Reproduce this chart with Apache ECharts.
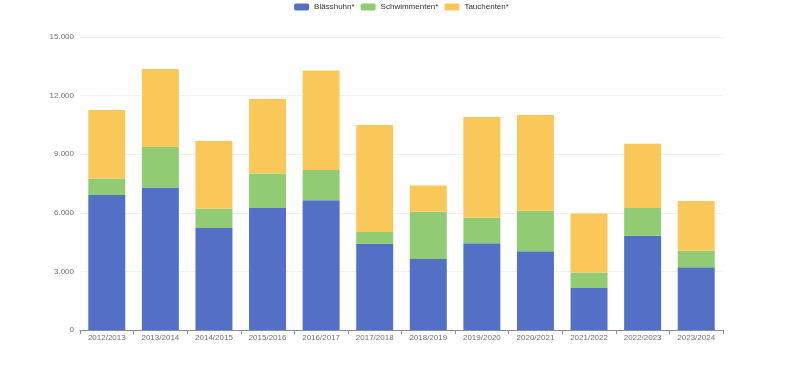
<!DOCTYPE html>
<html>
<head>
<meta charset="utf-8">
<script src="https://cdn.jsdelivr.net/npm/echarts@6/dist/echarts.min.js"></script>
<style>
  html, body { margin: 0; padding: 0; background: #fff; }
  #chart { width: 803px; height: 373px; }
</style>
</head>
<body>
<div id="chart"></div>
<script>
// winter seasons
const seasons = ['2012/2013', '2013/2014', '2014/2015', '2015/2016', '2016/2017', '2017/2018',
  '2018/2019', '2019/2020', '2020/2021', '2021/2022', '2022/2023', '2023/2024']
const blaesshuhn = [6910, 7290, 5220, 6250, 6640, 4420, 3640, 4440, 4030, 2150, 4830, 3210]
const schwimmenten = [850, 2080, 990, 1760, 1550, 600, 2410, 1310, 2080, 800, 1420, 850]
const tauchenten = [3500, 3990, 3460, 3820, 5100, 5480, 1350, 5150, 4900, 3020, 3280, 2540]
const seriesNames = ['Blässhuhn*', 'Schwimmenten*', 'Tauchenten*']

const chart = echarts.init(document.getElementById('chart'))

function bar(name, data) {
  return {
    name,
    type: 'bar',
    stack: 'total',
    barWidth: '69%',
    data
  }
}

chart.setOption({
  animation: false,
  color: ['#5470c6', '#91cc75', '#fac858'],
  textStyle: { fontFamily: 'Liberation Sans, Arial, sans-serif' },
  legend: {
    top: 0,
    padding: [3, 5],
    itemWidth: 15,
    itemHeight: 7,
    itemGap: 6,
    textStyle: { fontSize: 8, color: '#333' },
    data: seriesNames
  },
  grid: {
    top: 37,
    left: 80,
    right: 80,
    bottom: 43
  },
  xAxis: {
    type: 'category',
    data: seasons,
    axisTick: { show: true, length: 4, lineStyle: { color: '#8a8c94' } },
    axisLabel: { fontSize: 8, color: '#6e7079', margin: 4 },
    axisLine: { lineStyle: { color: '#8a8c94' } }
  },
  yAxis: {
    type: 'value',
    min: 0,
    max: 15000,
    interval: 3000,
    axisLabel: {
      fontSize: 8,
      color: '#6e7079',
      margin: 6,
      formatter: v => v.toLocaleString('de-DE')
    },
    splitLine: { lineStyle: { color: '#eef0f6' } }
  },
  series: [
    bar(seriesNames[0], blaesshuhn),
    bar(seriesNames[1], schwimmenten),
    bar(seriesNames[2], tauchenten)
  ]
})
</script>
</body>
</html>
